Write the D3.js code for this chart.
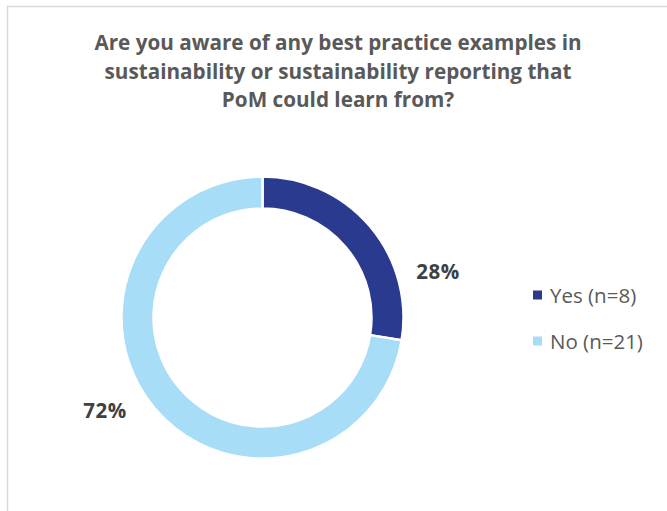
<!DOCTYPE html>
<html>
<head>
<meta charset="utf-8">
<script src="https://cdn.jsdelivr.net/npm/d3@7"></script>
<style>
  html, body { margin: 0; padding: 0; background: #fff; }
  svg { display: block; }
</style>
</head>
<body>
<svg id="chart" width="667" height="511"></svg>
<script>
// Survey answers
const categories = ["Yes", "No"];
const counts = [8, 21];
const percentLabels = ["28%", "72%"];
const colors = ["#2a3a8f", "#a7ddf7"];
const titleLines = [
  "Are you aware of any best practice examples in",
  "sustainability or sustainability reporting that",
  "PoM could learn from?"
];

const FONT = "'Open Sans', Lato, sans-serif";
const svg = d3.select("#chart");

// Chart frame (light grey border, open on right/bottom)
svg.append("path")
  .attr("d", "M7.5,511 L7.5,6.5 L667,6.5")
  .attr("fill", "none")
  .attr("stroke", "#d9d9d9")
  .attr("stroke-width", 1.5);

// Title
const title = svg.append("text")
  .attr("text-anchor", "middle")
  .attr("font-family", FONT)
  .attr("font-weight", 700)
  .attr("font-size", 20.7)
  .attr("fill", "#595959");
titleLines.forEach((t, i) => {
  title.append("tspan").attr("x", 338).attr("y", 50 + i * 28.5).text(t);
});

// Donut
const cx = 262.5, cy = 317.5, rOuter = 141, rInner = 109;
const data = categories.map((c, i) => ({ cat: c, n: counts[i], label: percentLabels[i], color: colors[i] }));
const pie = d3.pie().value(d => d.n).sort(null);
const arc = d3.arc().innerRadius(rInner).outerRadius(rOuter);
const arcs = pie(data);

const g = svg.append("g").attr("transform", `translate(${cx},${cy})`);
g.selectAll("path.slice")
  .data(arcs)
  .join("path")
  .attr("class", "slice")
  .attr("d", arc)
  .attr("fill", d => d.data.color)
  .attr("stroke", "#fff")
  .attr("stroke-width", 2.5);

// Percentage labels placed off the outer edge of each slice
const edgeArc = d3.arc().innerRadius(rOuter).outerRadius(rOuter);
const labelOffsets = [[68, 45], [-50, 1]];
g.selectAll("text.pct")
  .data(arcs)
  .join("text")
  .attr("class", "pct")
  .attr("x", (d, i) => edgeArc.centroid(d)[0] + labelOffsets[i][0])
  .attr("y", (d, i) => edgeArc.centroid(d)[1] + labelOffsets[i][1])
  .attr("text-anchor", "middle")
  .attr("dominant-baseline", "central")
  .attr("font-family", FONT)
  .attr("font-weight", 700)
  .attr("font-size", 20.5)
  .attr("letter-spacing", 0.5)
  .attr("fill", "#404040")
  .text(d => d.data.label);

// Legend
const legend = svg.append("g").attr("transform", "translate(533,295)");
const rows = legend.selectAll("g")
  .data(data)
  .join("g")
  .attr("transform", (d, i) => `translate(0,${i * 46})`);
rows.append("rect")
  .attr("x", 0).attr("y", -4.5)
  .attr("width", 9).attr("height", 9)
  .attr("fill", d => d.color);
rows.append("text")
  .attr("x", 17)
  .attr("y", 0)
  .attr("dominant-baseline", "central")
  .attr("font-family", FONT)
  .attr("font-size", 20.5)
  .attr("fill", "#595959")
  .text(d => `${d.cat} (n=${d.n})`);
</script>
</body>
</html>
